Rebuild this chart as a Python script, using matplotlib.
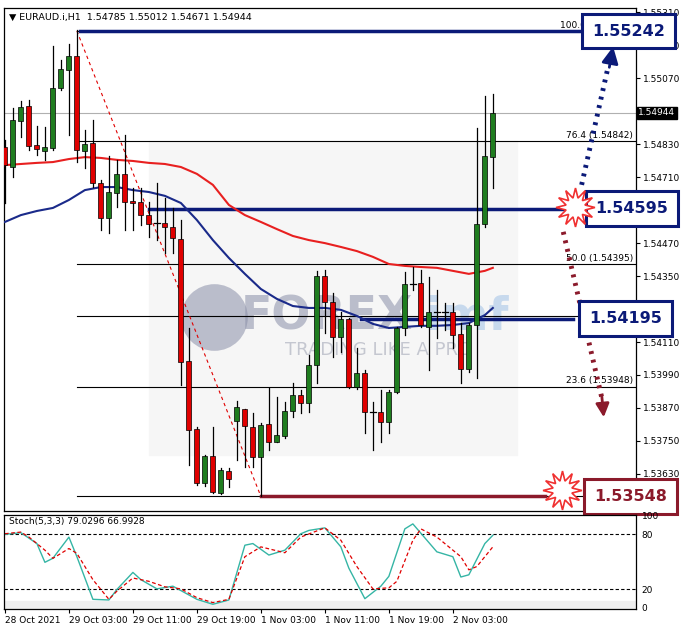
import numpy as np
import matplotlib.pyplot as plt
from matplotlib.patches import Rectangle

# EURAUD H1 candles (open, high, low, close)
opens = [1.54820, 1.54747, 1.54915, 1.54969, 1.54827, 1.54805, 1.54816, 1.55035, 1.55100, 1.55151,
         1.54805, 1.54834, 1.54689, 1.54561, 1.54652, 1.54722, 1.54623, 1.54620, 1.54572, 1.54543,
         1.54543, 1.54529, 1.54485, 1.54041, 1.53793, 1.53597, 1.53695, 1.53560, 1.53641, 1.53823,
         1.53866, 1.53801, 1.53692, 1.53812, 1.53746, 1.53768, 1.53859, 1.53917, 1.53888, 1.54026,
         1.54350, 1.54256, 1.54128, 1.54194, 1.53946, 1.53997, 1.53855, 1.53855, 1.53819, 1.53928,
         1.54161, 1.54321, 1.54325, 1.54165, 1.54219, 1.54219, 1.54219, 1.54139, 1.54012, 1.54172,
         1.54540, 1.54785]
highs = [1.54845, 1.54962, 1.54987, 1.54991, 1.54896, 1.54893, 1.55188, 1.55137, 1.55195, 1.55246,
         1.54882, 1.54918, 1.54700, 1.54787, 1.54773, 1.54864, 1.54671, 1.54671, 1.54620, 1.54689,
         1.54634, 1.54598, 1.54554, 1.54161, 1.53801, 1.53699, 1.53801, 1.53651, 1.53651, 1.53895,
         1.53866, 1.53852, 1.53815, 1.53943, 1.53910, 1.53892, 1.53961, 1.53935, 1.54063, 1.54369,
         1.54372, 1.54288, 1.54219, 1.54197, 1.54088, 1.54008, 1.53892, 1.53935, 1.53935, 1.54165,
         1.54365, 1.54383, 1.54372, 1.54347, 1.54299, 1.54252, 1.54252, 1.54179, 1.54179, 1.54889,
         1.55006, 1.55012]
lows = [1.54616, 1.54711, 1.54856, 1.54809, 1.54791, 1.54773, 1.54809, 1.55027, 1.54864, 1.54765,
        1.54743, 1.54674, 1.54518, 1.54507, 1.54602, 1.54518, 1.54518, 1.54536, 1.54492, 1.54481,
        1.54434, 1.54434, 1.53954, 1.53662, 1.53590, 1.53586, 1.53560, 1.53557, 1.53582, 1.53681,
        1.53655, 1.53655, 1.53548, 1.53717, 1.53746, 1.53761, 1.53837, 1.53852, 1.53855, 1.53961,
        1.54143, 1.54056, 1.54074, 1.53943, 1.53939, 1.53779, 1.53717, 1.53746, 1.53779, 1.53924,
        1.54136, 1.54299, 1.54165, 1.54008, 1.54125, 1.54154, 1.54088, 1.53961, 1.54001, 1.53979,
        1.54529, 1.54671]
closes = [1.54754, 1.54918, 1.54966, 1.54824, 1.54813, 1.54820, 1.55035, 1.55104, 1.55151, 1.54809,
          1.54831, 1.54689, 1.54561, 1.54656, 1.54722, 1.54620, 1.54616, 1.54572, 1.54540, 1.54540,
          1.54529, 1.54489, 1.54037, 1.53790, 1.53597, 1.53695, 1.53564, 1.53644, 1.53611, 1.53874,
          1.53804, 1.53692, 1.53808, 1.53746, 1.53772, 1.53859, 1.53917, 1.53888, 1.54026, 1.54350,
          1.54256, 1.54128, 1.54194, 1.53946, 1.53997, 1.53855, 1.53856, 1.53819, 1.53928, 1.54161,
          1.54321, 1.54318, 1.54172, 1.54219, 1.54220, 1.54220, 1.54136, 1.54012, 1.54172, 1.54540,
          1.54787, 1.54944]

# moving averages, sampled every second bar
ma_bars = list(range(0, 61, 2)) + [61]
ma_red = [1.54754, 1.54758, 1.54762, 1.54765, 1.54776, 1.54783, 1.54780, 1.54773, 1.54769, 1.54762,
          1.54758, 1.54747, 1.54722, 1.54682, 1.54609, 1.54572, 1.54547, 1.54521, 1.54496, 1.54481,
          1.54470, 1.54456, 1.54441, 1.54420, 1.54394, 1.54387, 1.54383, 1.54380, 1.54369, 1.54358,
          1.54369, 1.54380]
ma_blue = [1.54547, 1.54572, 1.54587, 1.54598, 1.54627, 1.54663, 1.54674, 1.54674, 1.54663, 1.54656,
           1.54642, 1.54616, 1.54554, 1.54481, 1.54416, 1.54358, 1.54303, 1.54267, 1.54241, 1.54234,
           1.54234, 1.54227, 1.54205, 1.54176, 1.54161, 1.54165, 1.54169, 1.54169, 1.54172, 1.54179,
           1.54208, 1.54234]

# stochastic (5,3,3)
k_bars = [0, 2, 4, 5, 6, 8, 9, 11, 13, 14, 16, 17, 19, 21, 24, 26, 28, 30, 31, 33, 35, 37, 38, 40,
          42, 43, 45, 47, 48, 50, 51, 54, 56, 57, 58, 60, 61]
k_vals = [80, 81.8, 70, 49.6, 54, 77, 55.7, 9.3, 8.6, 20, 38.6, 30.7, 20.7, 23.6, 9.3, 3.9, 8.6, 68.2,
          70, 57.5, 62.8, 80.7, 84.3, 87.1, 66.4, 43.2, 10, 23.6, 34.3, 86, 91.4, 61, 55.7, 33.6, 36,
          70, 79]
d_bars = [0, 2, 3, 5, 6, 8, 9, 11, 13, 14, 16, 18, 20, 22, 24, 26, 28, 30, 32, 35, 37, 40, 42, 44,
          46, 48, 49, 51, 52, 54, 57, 58, 59, 61]
d_vals = [80.7, 82.5, 77.1, 62.8, 53.9, 64.6, 59.3, 30.7, 9.3, 18.2, 32.5, 28.9, 22.9, 20.7, 11.1,
          5.7, 9.3, 55.7, 66.4, 60, 77.1, 87.1, 73.6, 45, 20.7, 21.8, 28.9, 73.6, 86, 77.1, 55.7,
          41.4, 45, 66.4]

fib_levels = [1.55242, 1.54842, 1.54395, 1.54206, 1.53948, 1.53548]
fib_labels = ["100.0 (1.55242)", "76.4 (1.54842)", "50.0 (1.54395)", "", "23.6 (1.53948)", ""]
price_ticks = [1.55310, 1.55190, 1.55070, 1.54830, 1.54710, 1.54470, 1.54350, 1.54110,
               1.53990, 1.53870, 1.53750, 1.53630]
time_labels = ["28 Oct 2021", "29 Oct 03:00", "29 Oct 11:00", "29 Oct 19:00", "1 Nov 03:00",
               "1 Nov 11:00", "1 Nov 19:00", "2 Nov 03:00"]
time_bars = [0, 8, 16, 24, 32, 40, 48, 56]

navy = "#0b1a78"
maroon = "#8b1a2b"
green = "#1f7d1f"
red = "#e00000"

fig = plt.figure(figsize=(6.85, 6.32), dpi=100)
ax = fig.add_axes([0.006, 0.1915, 0.9225, 0.7955])
ax2 = fig.add_axes([0.006, 0.036, 0.9225, 0.149])

xmin, xmax = -0.1, 78.9
ax.set_xlim(xmin, xmax)
ax.set_ylim(1.53495, 1.55325)

# faint fib zone shading
ax.add_patch(Rectangle((18, 1.53700), 46, 0.0114, color="#f6f6f6", zorder=0))

# watermark
ax.plot([26.2], [1.54200], marker="o", ms=48, mfc="#8a8fa8", mec="none", alpha=0.55, zorder=1)
ax.text(29.5, 1.54200, "FOREX", fontsize=33, fontweight="bold", color="#8a8fa8", alpha=0.55,
        va="center", zorder=1)
ax.text(52.5, 1.54200, "imf", fontsize=33, fontweight="bold", color="#a9c6e8", alpha=0.6,
        va="center", zorder=1)
ax.text(35, 1.54080, "TRADING LIKE A PRO", fontsize=13, color="#b0b3c0", alpha=0.7,
        va="center", zorder=1)

# current price line
ax.axhline(1.54944, color="#b0b0b0", lw=0.8, zorder=1)

# fib lines
for lv, lb in zip(fib_levels, fib_labels):
    ax.plot([9, xmax], [lv, lv], color="black", lw=0.8, zorder=2)
    if lb:
        ax.text(78.5, lv + 0.00004, lb, fontsize=6.5, ha="right", va="bottom", zorder=2)
ax.plot([9, 32], [fib_levels[0], fib_levels[-1]], color=red, lw=0.8, ls=(0, (3, 3)), zorder=2)

# key levels
ax.plot([9.4, 72], [1.55242, 1.55242], color=navy, lw=2.5, zorder=3)
ax.plot([18, 71], [1.54595, 1.54595], color=navy, lw=2.5, zorder=3)
ax.plot([44.5, 71], [1.54195, 1.54195], color=navy, lw=2.5, zorder=3)
ax.plot([32, 67.5], [1.53548, 1.53548], color=maroon, lw=2.5, zorder=3)

# moving averages
ax.plot(ma_bars, ma_red, color="#e82020", lw=1.5, zorder=4)
ax.plot(ma_bars, ma_blue, color="#1a2a8a", lw=1.5, zorder=4)

# candles
for i in range(len(opens)):
    o, h, l, c = opens[i], highs[i], lows[i], closes[i]
    col = green if c >= o else red
    ax.plot([i, i], [l, h], color="black", lw=0.9, zorder=5)
    lo, hi = min(o, c), max(o, c)
    if hi - lo < 0.00004:
        ax.plot([i - 0.35, i + 0.35], [o, o], color="black", lw=0.9, zorder=6)
    else:
        ax.add_patch(Rectangle((i - 0.32, lo), 0.64, hi - lo, facecolor=col, edgecolor="black",
                               lw=0.5, zorder=6))

# level boxes
boxes = [(78.0, 1.55242, "1.55242", navy), (78.4, 1.54595, "1.54595", navy),
         (77.6, 1.54195, "1.54195", navy), (78.2, 1.53548, "1.53548", maroon)]
for bx, by, bt, bc in boxes:
    ax.text(bx, by, bt, fontsize=11.5, fontweight="bold", color=bc, ha="center", va="center",
            zorder=9, clip_on=False,
            bbox=dict(boxstyle="square,pad=0.62", fc="white", ec=bc, lw=2.2))

# starbursts
ax.plot([71.3], [1.54602], marker=(12, 1, 0), ms=28, mfc="white", mec="#f03030", mew=1.2,
        zorder=10)
ax.plot([69.6], [1.53571], marker=(12, 1, 0), ms=28, mfc="white", mec="#f03030", mew=1.2,
        zorder=10)

# dotted arrows
ax.plot([72.1, 75.4], [1.54682, 1.55110], color=navy, lw=3.5, ls=(0, (0.6, 1.2)), zorder=8)
ax.annotate("", xy=(76.1, 1.55195), xytext=(75.5, 1.55100),
            arrowprops=dict(arrowstyle="-|>,head_width=0.5,head_length=1.0", color=navy, lw=2),
            zorder=8)
ax.plot([69.8, 74.6], [1.54511, 1.53910], color=maroon, lw=3.5, ls=(0, (0.6, 1.2)), zorder=8)
ax.annotate("", xy=(74.9, 1.53826), xytext=(74.6, 1.53920),
            arrowprops=dict(arrowstyle="-|>,head_width=0.4,head_length=0.8", color=maroon, lw=2),
            zorder=8)

ax.text(0.5, 1.55290, "\u25bc EURAUD.i,H1  1.54785 1.55012 1.54671 1.54944", fontsize=6.8,
        va="center", zorder=9)

ax.yaxis.tick_right()
ax.set_yticks(price_ticks)
ax.set_yticklabels([f"{t:.5f}" for t in price_ticks], fontsize=6.5)
ax.tick_params(axis="y", length=3, pad=2)
ax.set_xticks([])
ax.text(xmax + 0.3, 1.54944, "1.54944", fontsize=6.5, color="white", va="center", ha="left",
        clip_on=False, bbox=dict(boxstyle="square,pad=0.15", fc="black", ec="black"))

# stochastic panel
ax2.set_xlim(xmin, xmax)
ax2.set_ylim(-1.5, 101)
ax2.axhspan(-1.5, 8, color="#eeeeee", zorder=0)
ax2.axhline(80, color="black", lw=0.8, ls=(0, (3, 2)))
ax2.axhline(20, color="black", lw=0.8, ls=(0, (3, 2)))
ax2.plot(k_bars, k_vals, color="#35b5a5", lw=1.0)
ax2.plot(d_bars, d_vals, color=red, lw=0.9, ls=(0, (3, 2)))
ax2.text(0.5, 94, "Stoch(5,3,3) 79.0296 66.9928", fontsize=6.5, va="center")
ax2.yaxis.tick_right()
ax2.set_yticks([100, 80, 20, 0])
ax2.set_yticklabels(["100", "80", "20", "0"], fontsize=6.5)
ax2.tick_params(axis="y", length=0, pad=4)
ax2.set_xticks(time_bars)
ax2.set_xticklabels(time_labels, fontsize=6.5, ha="left")
ax2.tick_params(axis="x", length=3, pad=2)

for a in (ax, ax2):
    for s in a.spines.values():
        s.set_linewidth(0.9)

fig.savefig("out.png", dpi=100)
